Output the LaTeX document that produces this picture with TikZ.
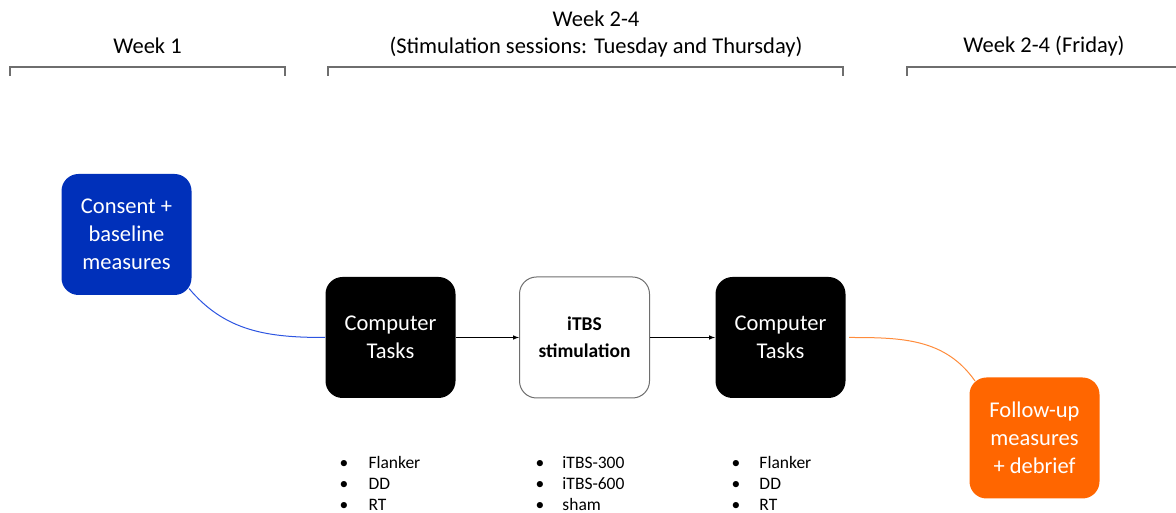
\documentclass[tikz,border=0pt]{standalone}
\usepackage{fontspec}
\setmainfont{Carlito}
\usetikzlibrary{arrows}
\usetikzlibrary{positioning}
\definecolor{consblue}{RGB}{0,48,186}
\definecolor{fuorange}{RGB}{255,102,0}
\definecolor{bluelink}{RGB}{45,85,225}
\definecolor{orangelink}{RGB}{255,140,60}
\definecolor{brgray}{RGB}{110,110,110}

\begin{document}
\begin{tikzpicture}[x=1pt, y=1pt, line width=1pt, >=latex,
  box/.style={rectangle, rounded corners=17pt, minimum width=130pt, minimum height=121pt, inner sep=2pt, align=center, text=white, font=\fontsize{22.5}{28}\selectfont},
  task/.style={box, fill=black},
  stim/.style={box, fill=white, draw=brgray, text=black, font=\fontsize{19.5}{27}\selectfont\bfseries},
  list/.style={anchor=north west, inner sep=0pt, align=left, font=\fontsize{17.5}{21}\selectfont},
  head/.style={align=center, font=\fontsize{22.5}{27}\selectfont},
  brace/.style={draw=brgray, line width=1.3pt}]
\useasboundingbox (0,0) rectangle (1176,513);
	  % time line
	  \node[head] (w1) at (147.5,467) {Week 1};
	  \node[head] (w24) at (596,479) {Week 2-4\\(Stimulation sessions: Tuesday and Thursday)};
	  \node[head] (fri) at (1044,467) {Week 2-4 (Friday)};
	  \draw[brace] (10,437) -- (10,446) -- (285,446) -- (285,437);
	  \draw[brace] (328,437) -- (328,446) -- (843,446) -- (843,437);
	  \draw[brace] (907,437) -- (907,446) -- (1176,446);

	  % boxes
	  \node[task] (ct1) at (390.5,175.5) {Computer\\Tasks};
	  \node[stim] (itbs) [right = 63pt of ct1] {iTBS\\stimulation};
	  \node[task] (ct2) [right = 65pt of itbs] {Computer\\Tasks};
	  \node[box, fill=consblue] (cons) at (126.5,278.5) {Consent +\\baseline\\measures};
	  \node[box, fill=fuorange] (fu) at (1034.5,75) {Follow-up\\measures\\+ debrief};

	  % lists
	  \node (l1) [below = 57pt of ct1.south west, list, xshift=14pt] {\makebox[29pt][l]{\textbullet}Flanker\\\makebox[29pt][l]{\textbullet}DD\\\makebox[29pt][l]{\textbullet}RT};
	  \node (l2) [below = 57pt of itbs.south west, list, xshift=16pt] {\makebox[27pt][l]{\textbullet}iTBS-300\\\makebox[27pt][l]{\textbullet}iTBS-600\\\makebox[27pt][l]{\textbullet}sham};
	  \node (l3) [below = 57pt of ct2.south west, list, xshift=16pt] {\makebox[28pt][l]{\textbullet}Flanker\\\makebox[28pt][l]{\textbullet}DD\\\makebox[28pt][l]{\textbullet}RT};

	  \path[->]
	    (ct1) edge (itbs)
	    (itbs) edge (ct2);

	  \draw[bluelink] ([shift={(-3pt,7pt)}]cons.south east) to[out=-50,in=180] (ct1.west);
	  \draw[orangelink] ([xshift=3pt]ct2.east) to[out=0,in=125] ([shift={(6pt,-4pt)}]fu.north west);
\end{tikzpicture}
\end{document}
